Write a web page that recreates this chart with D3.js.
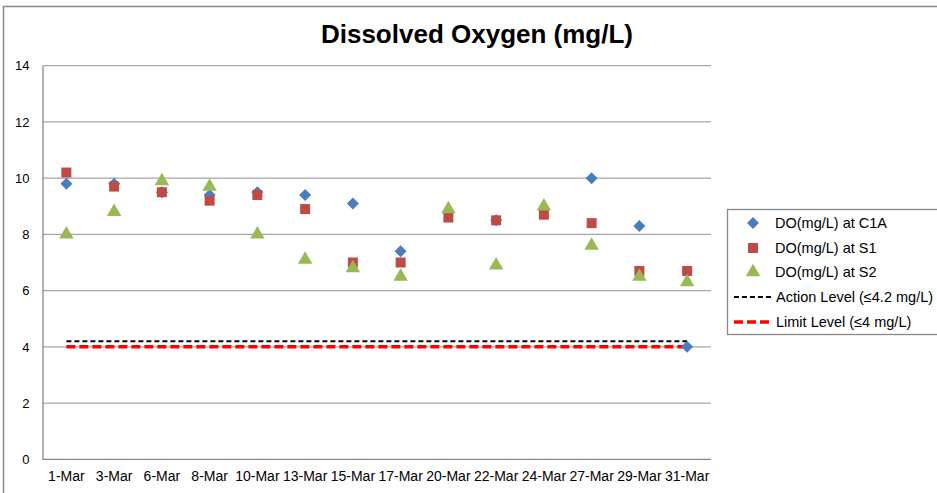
<!DOCTYPE html>
<html>
<head>
<meta charset="utf-8">
<script src="https://cdn.jsdelivr.net/npm/d3@7"></script>
<style>
  body { margin: 0; background: #fff; }
  svg { display: block; font-family: "Liberation Sans", Arial, sans-serif; }
</style>
</head>
<body>
<div id="chart"></div>
<script>
const width = 937, height = 493;

// categories and values
var dates = ["1-Mar", "3-Mar", "6-Mar", "8-Mar", "10-Mar", "13-Mar", "15-Mar", "17-Mar",
             "20-Mar", "22-Mar", "24-Mar", "27-Mar", "29-Mar", "31-Mar"];
var doC1A = [9.8, 9.8, 9.5, 9.4, 9.5, 9.4, 9.1, 7.4, 8.8, 8.5, 8.9, 10.0, 8.3, 4.0];
var doS1  = [10.2, 9.7, 9.5, 9.2, 9.4, 8.9, 7.0, 7.0, 8.6, 8.5, 8.7, 8.4, 6.7, 6.7];
var doS2  = [8.0, 8.8, 9.9, 9.7, 8.0, 7.1, 6.8, 6.5, 8.9, 6.9, 9.0, 7.6, 6.5, 6.3];
var actionLevel = 4.2;
var limitLevel = 4;
var yTicks = [0, 2, 4, 6, 8, 10, 12, 14];

const plot = {left: 42.5, right: 711, top: 65.7, bottom: 459.3};

const svg = d3.select("#chart").append("svg")
    .attr("width", width)
    .attr("height", height);

// outer chart frame
svg.append("rect")
    .attr("x", 3.5).attr("y", 6.5)
    .attr("width", width + 20).attr("height", height + 20)
    .attr("fill", "none")
    .attr("stroke", "#888")
    .attr("stroke-width", 1.5);

var x = d3.scaleBand().domain(dates).range([plot.left, plot.right]).padding(0);
var y = d3.scaleLinear().domain([0, 14]).range([plot.bottom, plot.top]);
function cx(d) { return x(d) + x.bandwidth() / 2; }

// gridlines
svg.append("g")
    .selectAll("line")
    .data(yTicks)
    .enter()
    .append("line")
    .attr("x1", plot.left).attr("x2", plot.right)
    .attr("y1", function(d) { return y(d); })
    .attr("y2", function(d) { return y(d); })
    .attr("stroke", function(d) { return d == 0 ? "#888" : "#a6a6a6"; })
    .attr("stroke-width", 1.3);

// y axis
var yAxis = d3.axisLeft(y).tickValues(yTicks).tickSize(0).tickPadding(13);
var gy = svg.append("g")
    .attr("transform", "translate(" + plot.left + ",0)")
    .call(yAxis);
gy.select(".domain").attr("stroke", "#888").attr("stroke-width", 1.3);
gy.selectAll("text").attr("font-size", "13px").attr("fill", "#000")
    .attr("font-family", "Liberation Sans, Arial, sans-serif");

// x axis
var xAxis = d3.axisBottom(x).tickSize(0).tickPadding(12);
var gx = svg.append("g")
    .attr("transform", "translate(0," + plot.bottom + ")")
    .call(xAxis);
gx.select(".domain").remove();
gx.selectAll("text").attr("font-size", "14px").attr("fill", "#000")
    .attr("font-family", "Liberation Sans, Arial, sans-serif");

// level lines
var first = cx(dates[0]), last = cx(dates[dates.length - 1]);
svg.append("line")
    .attr("x1", first).attr("x2", last)
    .attr("y1", y(actionLevel)).attr("y2", y(actionLevel))
    .attr("stroke", "#000").attr("stroke-width", 2)
    .attr("stroke-dasharray", "5,3");
svg.append("line")
    .attr("x1", first).attr("x2", last)
    .attr("y1", y(limitLevel)).attr("y2", y(limitLevel))
    .attr("stroke", "#ff0000").attr("stroke-width", 3.5)
    .attr("stroke-dasharray", "9,4");

// markers
var series = [
  {name: "DO(mg/L) at C1A", values: doC1A, color: "#4a7ebb", shape: d3.symbolDiamond, size: 70},
  {name: "DO(mg/L) at S1",  values: doS1,  color: "#be4b48", shape: d3.symbolSquare,  size: 100},
  {name: "DO(mg/L) at S2",  values: doS2,  color: "#98b954", shape: d3.symbolTriangle, size: 90}
];

function symbolPath(s) {
  if (s.shape === d3.symbolDiamond) {
    // square diamond like Excel
    return "M0,-6L6,0L0,6L-6,0Z";
  }
  return d3.symbol().type(s.shape).size(s.size)();
}

series.forEach(function(s) {
  svg.append("g")
      .selectAll("path")
      .data(s.values)
      .enter()
      .append("path")
      .attr("d", symbolPath(s))
      .attr("transform", function(d, i) {
        return "translate(" + cx(dates[i]) + "," + y(d) + ")";
      })
      .attr("fill", s.color);
});

// title
svg.append("text")
    .attr("x", 477).attr("y", 43)
    .attr("text-anchor", "middle")
    .attr("font-size", "26px")
    .attr("font-weight", "bold")
    .text("Dissolved Oxygen (mg/L)");

// legend
var legend = svg.append("g");
legend.append("rect")
    .attr("x", 727.5).attr("y", 209.5)
    .attr("width", 230).attr("height", 125)
    .attr("fill", "#fff")
    .attr("stroke", "#888").attr("stroke-width", 1.3);

var rows = [223, 248, 272, 297, 322];
series.forEach(function(s, i) {
  legend.append("path")
      .attr("d", symbolPath(s))
      .attr("transform", "translate(753," + rows[i] + ")")
      .attr("fill", s.color);
  legend.append("text")
      .attr("x", 775).attr("y", rows[i] + 5)
      .attr("font-size", "14.5px")
      .text(s.name);
});
legend.append("line")
    .attr("x1", 734).attr("x2", 772)
    .attr("y1", rows[3]).attr("y2", rows[3])
    .attr("stroke", "#000").attr("stroke-width", 2)
    .attr("stroke-dasharray", "5,3");
legend.append("text")
    .attr("x", 776).attr("y", rows[3] + 5)
    .attr("font-size", "14.5px")
    .text("Action Level (≤4.2 mg/L)");
legend.append("line")
    .attr("x1", 734).attr("x2", 769)
    .attr("y1", rows[4]).attr("y2", rows[4])
    .attr("stroke", "#ff0000").attr("stroke-width", 3.5)
    .attr("stroke-dasharray", "9,4");
legend.append("text")
    .attr("x", 776).attr("y", rows[4] + 5)
    .attr("font-size", "14.5px")
    .text("Limit Level (≤4 mg/L)");
</script>
</body>
</html>
